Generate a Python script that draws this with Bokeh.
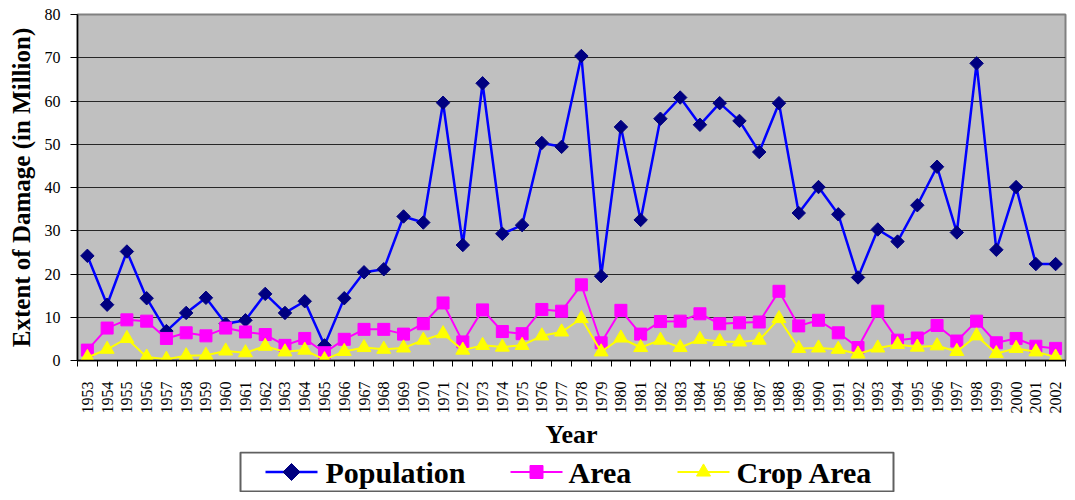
import numpy as np
from bokeh.plotting import figure
from bokeh.layouts import column
from bokeh.models import Range1d, FixedTicker, ColumnDataSource
from bokeh.core.properties import value
from bokeh.embed import file_html
from bokeh.resources import INLINE

years = list(range(1953, 2003))
population = [24.2, 12.9, 25.2, 14.4, 6.8, 11.0, 14.5, 8.5, 9.3, 15.4, 11.0, 13.7, 3.5, 14.4, 20.4, 21.1, 33.3,
              31.9, 59.6, 26.7, 64.1, 29.3, 31.3, 50.3, 49.4, 70.4, 19.5, 54.0, 32.5, 55.9, 60.8, 54.5, 59.5, 55.4,
              48.2, 59.5, 34.1, 40.1, 33.8, 19.2, 30.3, 27.5, 35.9, 44.8, 29.6, 68.7, 25.6, 40.1, 22.3, 22.3]
area = [2.4, 7.5, 9.4, 9.1, 5.1, 6.4, 5.7, 7.5, 6.6, 6.0, 3.5, 5.1, 1.8, 4.9, 7.2, 7.2, 6.1,
        8.5, 13.3, 4.3, 11.7, 6.7, 6.2, 11.8, 11.4, 17.5, 4.1, 11.6, 6.1, 9.0, 9.1, 10.8, 8.5, 8.7,
        8.9, 16.0, 8.0, 9.3, 6.4, 3.0, 11.4, 4.7, 5.2, 8.1, 4.5, 9.1, 4.1, 5.1, 3.3, 2.8]
crop_area = [0.7, 2.6, 5.1, 0.8, 0.3, 1.1, 1.2, 2.2, 1.8, 3.3, 2.0, 2.4, 0.2, 2.1, 3.0, 2.6, 2.9,
             4.7, 6.2, 2.4, 3.5, 3.1, 3.5, 5.7, 6.6, 9.7, 2.0, 5.2, 3.0, 4.7, 3.0, 4.9, 4.4, 4.3,
             4.7, 9.7, 2.8, 2.9, 2.6, 1.5, 2.9, 3.7, 3.1, 3.4, 2.1, 5.7, 1.6, 2.8, 2.0, 0.8]
y_ticks = [0, 10, 20, 30, 40, 50, 60, 70, 80]
series_names = ["Population", "Area", "Crop Area"]

FONT = "Liberation Serif"
LINE_COLORS = ["#0000FF", "#FF00FF", "#FFFF00"]
MARK_COLORS = ["#000080", "#FF00FF", "#FFFF00"]
LINE_WIDTHS = [2.5, 2, 2]
MARKERS = ["square", "square", "triangle"]
ANGLES = [np.pi / 4, 0, 0]
SIZES = [9.5, 12, 14]

W = 1067
BL, BR = 77, 2          # left / right borders shared by both figures

src = ColumnDataSource(dict(year=years, pop=population, area=area, crop=crop_area))

p = figure(width=W, height=451, output_backend="svg", toolbar_location=None,
           x_range=Range1d(years[0] - 0.5, years[-1] + 0.5), y_range=Range1d(0, 80),
           min_border_left=BL, min_border_right=BR, min_border_top=14, min_border_bottom=89)

p.background_fill_color = "#C0C0C0"
p.border_fill_color = "white"
p.outline_line_color = "#808080"
p.outline_line_width = 2

p.xgrid.grid_line_color = None
p.ygrid.grid_line_color = "black"
p.ygrid.grid_line_alpha = 0.8
p.ygrid.grid_line_width = 1
p.ygrid.ticker = FixedTicker(ticks=y_ticks)

p.yaxis.ticker = FixedTicker(ticks=y_ticks, minor_ticks=[])
p.yaxis.axis_label = "Extent of Damage (in Million)"
p.yaxis.axis_label_text_font = FONT
p.yaxis.axis_label_text_font_style = "bold"
p.yaxis.axis_label_text_font_size = "25px"
p.yaxis.axis_label_text_color = "black"
p.yaxis.axis_label_standoff = 7
p.yaxis.major_label_text_font = FONT
p.yaxis.major_label_text_font_size = "16px"
p.yaxis.major_label_text_color = "black"
p.yaxis.major_label_standoff = 10
p.yaxis.major_tick_out = 7
p.yaxis.major_tick_in = 0
p.yaxis.minor_tick_line_color = None
p.yaxis.axis_line_color = "black"
p.yaxis.axis_line_width = 1.5
p.yaxis.major_tick_line_color = "black"

bounds = [y - 0.5 for y in years] + [years[-1] + 0.5]
p.xaxis.ticker = FixedTicker(ticks=years, minor_ticks=bounds)
p.xaxis.major_label_overrides = {y: str(y) for y in years}
p.xaxis.major_label_orientation = np.pi / 2
p.xaxis.major_label_text_font = FONT
p.xaxis.major_label_text_font_size = "16px"
p.xaxis.major_label_text_color = "black"
p.xaxis.major_label_standoff = 15
p.xaxis.major_tick_out = 0
p.xaxis.major_tick_in = 0
p.xaxis.minor_tick_out = 6
p.xaxis.minor_tick_in = 0
p.xaxis.minor_tick_line_color = "black"
p.xaxis.axis_line_color = "black"
p.xaxis.axis_line_width = 1.5
p.xaxis.axis_label = "Year"
p.xaxis.axis_label_text_font = FONT
p.xaxis.axis_label_text_font_style = "bold"
p.xaxis.axis_label_text_font_size = "26px"
p.xaxis.axis_label_text_color = "black"
p.xaxis.axis_label_standoff = 3

for col, i in (("pop", 0), ("area", 1), ("crop", 2)):
    p.line("year", col, source=src, line_color=LINE_COLORS[i], line_width=LINE_WIDTHS[i])
    p.scatter("year", col, source=src, marker=MARKERS[i], angle=ANGLES[i], size=SIZES[i],
              fill_color=MARK_COLORS[i], line_color=MARK_COLORS[i])

# ---- legend strip (separate figure placed below the chart; x in page pixels) ----
LH = 41
q = figure(width=W, height=LH, output_backend="svg", toolbar_location=None,
           x_range=Range1d(BL, W - BR), y_range=Range1d(0, LH),
           min_border_left=BL, min_border_right=BR, min_border_top=0, min_border_bottom=0,
           x_axis_type=None, y_axis_type=None)
q.grid.visible = False
q.outline_line_color = None
q.background_fill_color = "white"
q.border_fill_color = "white"

box = dict(left=[240], right=[893], bottom=[1.0], top=[40.0])
q.quad(source=ColumnDataSource(box), fill_color="white", line_color="#606060", line_width=2)

glyph_x0 = [265, 510, 677]
text_x0 = [325, 568, 736]
mid_y = 20.5
for i, name in enumerate(series_names):
    q.segment(x0=[glyph_x0[i]], y0=[mid_y], x1=[glyph_x0[i] + 52], y1=[mid_y],
              line_color=LINE_COLORS[i], line_width=LINE_WIDTHS[i])
    q.scatter(x=[glyph_x0[i] + 26], y=[mid_y], marker=MARKERS[i], angle=ANGLES[i],
              size=[12, 13, 14][i], fill_color=MARK_COLORS[i], line_color=MARK_COLORS[i])
    q.text(x=[text_x0[i]], y=[mid_y], text=[name], text_font=value(FONT),
           text_font_style="bold", text_font_size="30px", text_baseline="middle",
           text_align="left", text_color="black")

layout = column(p, q, spacing=0)
open("out.html", "w").write(file_html(layout, INLINE))
